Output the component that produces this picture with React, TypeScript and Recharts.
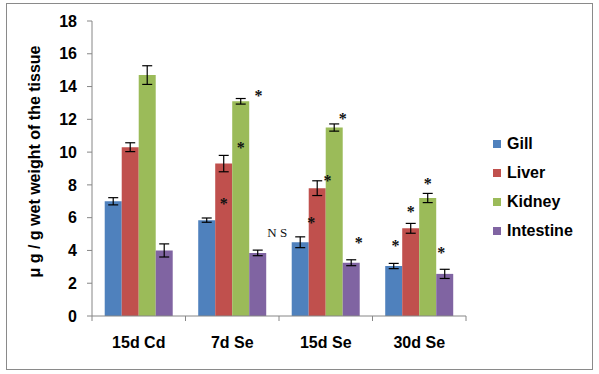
import React from 'react'
import { BarChart, Bar, XAxis, YAxis, Legend, ErrorBar, LabelList, Label } from 'recharts'

const categories = ['15d Cd', '7d Se', '15d Se', '30d Se']
const gill = [7.0, 5.85, 4.5, 3.05]
const gillErr = [0.22, 0.13, 0.33, 0.16]
const liver = [10.3, 9.3, 7.8, 5.35]
const liverErr = [0.27, 0.5, 0.45, 0.3]
const kidney = [14.7, 13.1, 11.5, 7.2]
const kidneyErr = [0.57, 0.17, 0.22, 0.28]
const intestine = [4.0, 3.85, 3.25, 2.57]
const intestineErr = [0.4, 0.17, 0.18, 0.28]
const yTicks = [0, 2, 4, 6, 8, 10, 12, 14, 16, 18]
const yTitle = 'μ g / g wet weight of the tissue'

// significance marks: which bar they belong to, the value they sit at, and a sideways shift in bar widths
const marks = [
  { cat: '7d Se', series: 'Liver', at: 7.0, shift: 0, text: '*' },
  { cat: '7d Se', series: 'Kidney', at: 10.4, shift: 0, text: '*' },
  { cat: '7d Se', series: 'Kidney', at: 13.55, shift: 1.05, text: '*' },
  { cat: '7d Se', series: 'Intestine', at: 5.1, shift: 1.15, text: 'N S' },
  { cat: '15d Se', series: 'Liver', at: 5.85, shift: -0.35, text: '*' },
  { cat: '15d Se', series: 'Kidney', at: 8.4, shift: -0.4, text: '*' },
  { cat: '15d Se', series: 'Kidney', at: 12.2, shift: 0.5, text: '*' },
  { cat: '15d Se', series: 'Intestine', at: 4.6, shift: 0.45, text: '*' },
  { cat: '30d Se', series: 'Gill', at: 4.4, shift: 0.1, text: '*' },
  { cat: '30d Se', series: 'Liver', at: 6.47, shift: 0, text: '*' },
  { cat: '30d Se', series: 'Kidney', at: 8.2, shift: 0, text: '*' },
  { cat: '30d Se', series: 'Intestine', at: 4.0, shift: -0.2, text: '*' },
]

const series = [
  { key: 'Gill', values: gill, err: gillErr, color: '#4F81BD' },
  { key: 'Liver', values: liver, err: liverErr, color: '#C0504D' },
  { key: 'Kidney', values: kidney, err: kidneyErr, color: '#9BBB59' },
  { key: 'Intestine', values: intestine, err: intestineErr, color: '#8064A2' },
]

const data = categories.map((name, i) => {
  const row: Record<string, any> = { name }
  series.forEach((s) => {
    row[s.key] = s.values[i]
    row[s.key + 'Err'] = s.err[i]
  })
  return row
})

const FONT = '"Liberation Sans", Arial, sans-serif'
const AXIS = '#868686'

function CategoryTick(props: any) {
  const { x, y, payload, index, width, visibleTicksCount } = props
  const half = payload?.offset || (width && visibleTicksCount ? width / visibleTicksCount / 2 : 46.75)
  return (
    <g>
      <line x1={x - half} x2={x - half} y1={y} y2={y + 5} stroke={AXIS} />
      {index === visibleTicksCount - 1 && <line x1={x + half} x2={x + half} y1={y} y2={y + 5} stroke={AXIS} />}
      <text x={x} y={y + 32} textAnchor='middle' fontFamily={FONT} fontWeight='bold' fontSize={16} fill='#000'>
        {payload.value}
      </text>
    </g>
  )
}

function YTitle(props: any) {
  const vb = props.viewBox || {}
  const cx = vb.x + 18
  const cy = vb.y + vb.height / 2 - 7
  return (
    <text
      x={cx}
      y={cy}
      transform={`rotate(-90, ${cx}, ${cy})`}
      textAnchor='middle'
      fontFamily={FONT}
      fontWeight='bold'
      fontSize={16}
      fill='#000'
    >
      {yTitle}
    </text>
  )
}

function markRenderer(key: string, values: number[]) {
  return (props: any) => {
    const vb = props.viewBox || props
    const x = Number(props.x ?? vb.x)
    const y = Number(props.y ?? vb.y)
    const w = Number(props.width ?? vb.width)
    const h = Number(props.height ?? vb.height)
    const index = props.index
    const items = marks.filter((m) => m.series === key && m.cat === categories[index])
    if (!items.length) return null
    const base = y + h
    const ppu = h / values[index]
    return (
      <g>
        {items.map((m, i) => (
          <text
            key={i}
            x={x + w / 2 + m.shift * w}
            y={base - m.at * ppu + (m.text === '*' ? 7.5 : 4.5)}
            textAnchor='middle'
            fontFamily='"Liberation Serif", "Times New Roman", serif'
            fontWeight={m.text === '*' ? 'bold' : 'normal'}
            fontSize={m.text === '*' ? 16 : 13}
            style={{ fill: '#111', stroke: 'none' }}
          >
            {m.text}
          </text>
        ))}
      </g>
    )
  }
}

function LegendList(props: any) {
  const payload = [...(props.payload || [])].sort(
    (a: any, b: any) => series.findIndex((s) => s.key === a.value) - series.findIndex((s) => s.key === b.value)
  )
  return (
    <div style={{ display: 'flex', flexDirection: 'column' }}>
      {payload.map((p: any) => (
        <div key={p.value} style={{ height: 29, display: 'flex', alignItems: 'center' }}>
          <span style={{ width: 8, height: 8, background: p.color, marginRight: 6, display: 'inline-block' }} />
          <span style={{ fontFamily: FONT, fontWeight: 'bold', fontSize: 16, color: '#000' }}>{p.value}</span>
        </div>
      ))}
    </div>
  )
}

export default function App() {
  return (
    <div style={{ position: 'absolute', left: 0, top: 0, width: 599, height: 374, background: '#fff' }}>
      <div
        style={{
          position: 'absolute',
          left: 6,
          top: 3,
          width: 587,
          height: 367,
          border: '1px solid #8a8a8a',
          boxSizing: 'border-box',
        }}
      />
      <BarChart
        width={599}
        height={374}
        data={data}
        margin={{ top: 21, right: 33, bottom: 18, left: 22 }}
        barCategoryGap='13.6%'
        barGap={0}
      >
        <XAxis
          dataKey='name'
          height={40}
          tickSize={0}
          tickMargin={0}
          tickLine={false}
          axisLine={{ stroke: AXIS }}
          tick={<CategoryTick />}
          interval={0}
        />
        <YAxis
          domain={[0, 18]}
          ticks={yTicks}
          interval={0}
          width={70}
          tickSize={5}
          tickMargin={10}
          axisLine={{ stroke: AXIS }}
          tickLine={{ stroke: AXIS }}
          tick={{ fill: '#000', fontSize: 16, fontWeight: 'bold', fontFamily: FONT }}
        >
          <Label content={YTitle} />
        </YAxis>
        <Legend
          layout='vertical'
          align='right'
          verticalAlign='middle'
          width={100}
          wrapperStyle={{ left: 493, top: 129, width: 100 }}
          content={LegendList}
        />
        {series.map((s) => (
          <Bar key={s.key} dataKey={s.key} fill={s.color} isAnimationActive={false}>
            <ErrorBar dataKey={s.key + 'Err'} width={5} stroke='#000' strokeWidth={1.2} direction='y' />
            <LabelList dataKey={s.key} content={markRenderer(s.key, s.values)} />
          </Bar>
        ))}
      </BarChart>
    </div>
  )
}
